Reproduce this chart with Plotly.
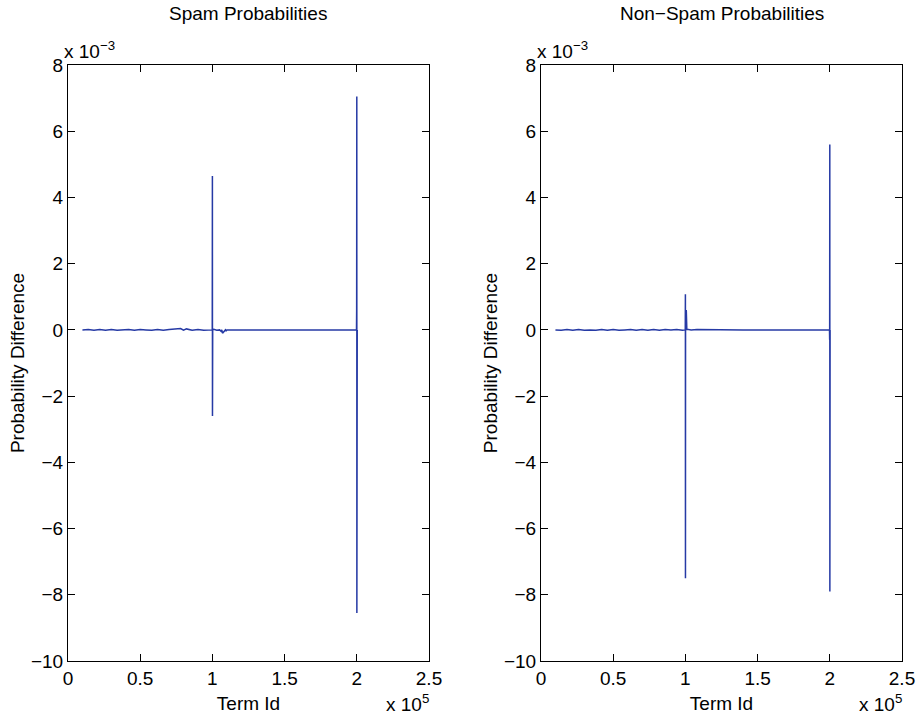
import plotly.graph_objects as go

# ---- data (term id, probability difference) ----
spam_term_id = [10000, 14000, 18000, 22000, 26000, 30000, 34000, 38000, 42000, 46000,
                50000, 54000, 58000, 62000, 66000, 70000, 74000, 78000, 80000, 82000,
                86000, 90000, 94000, 98000, 99900, 100000, 100050, 100100, 100200,
                101000, 103000, 105000, 106000, 106500, 107000, 109000, 109500, 110000,
                120000, 150000, 180000, 199800, 199900, 200000, 200050, 200100, 200150,
                200300]
spam_diff = [0.0, 0.01e-3, -0.01e-3, 0.01e-3, -0.01e-3, 0.01e-3, -0.01e-3, 0.0, 0.01e-3, -0.01e-3,
             0.01e-3, 0.0, -0.01e-3, 0.01e-3, -0.01e-3, 0.01e-3, 0.02e-3, 0.04e-3, -0.01e-3, 0.03e-3,
             -0.01e-3, 0.01e-3, -0.01e-3, 0.01e-3, 0.0, 4.65e-3, -2.6e-3, 0.05e-3, 0.0,
             0.02e-3, -0.01e-3, 0.0, -0.04e-3, 0.0, -0.1e-3, 0.0, -0.04e-3, 0.0,
             0.0, 0.0, 0.0, 0.0, 0.6e-3, 7.05e-3, -8.55e-3, 0.6e-3, 0.0,
             0.0]

nonspam_term_id = [10000, 14000, 18000, 22000, 26000, 30000, 34000, 38000, 42000, 46000,
                   50000, 54000, 58000, 62000, 66000, 70000, 74000, 78000, 82000, 86000,
                   90000, 94000, 98000, 99900, 100000, 100050, 100100, 100600, 101000,
                   101300, 104000, 108000, 140000, 180000, 199800, 199900, 200000, 200050,
                   200100, 200200]
nonspam_diff = [0.0, -0.01e-3, 0.01e-3, -0.01e-3, 0.01e-3, -0.01e-3, 0.0, -0.01e-3, 0.01e-3, -0.01e-3,
                0.01e-3, -0.01e-3, 0.0, 0.01e-3, -0.01e-3, 0.01e-3, -0.01e-3, 0.01e-3, -0.01e-3, 0.01e-3,
                0.0, 0.01e-3, -0.01e-3, 0.0, 1.08e-3, -7.5e-3, 0.0, 0.6e-3, 0.0,
                0.02e-3, 0.0, 0.01e-3, 0.0, 0.0, 0.0, -0.3e-3, 5.6e-3, -7.9e-3,
                -0.3e-3, 0.0]

titles = ["Spam Probabilities", "Non\u2212Spam Probabilities"]
x_tick_vals = [0, 50000, 100000, 150000, 200000, 250000]
x_tick_text = ["0", "0.5", "1", "1.5", "2", "2.5"]
y_tick_vals = [8e-3, 6e-3, 4e-3, 2e-3, 0, -2e-3, -4e-3, -6e-3, -8e-3, -10e-3]
y_tick_text = ["8", "6", "4", "2", "0", "\u22122", "\u22124", "\u22126", "\u22128", "\u221210"]

LINE = "rgb(38,58,165)"
FONT = "Liberation Sans, Arial, sans-serif"
TICK_SIZE = 19
LABEL_SIZE = 19

fig = go.Figure()
fig.add_trace(go.Scatter(x=spam_term_id, y=spam_diff, mode="lines",
                         line=dict(color=LINE, width=1.5), xaxis="x", yaxis="y",
                         showlegend=False))
fig.add_trace(go.Scatter(x=nonspam_term_id, y=nonspam_diff, mode="lines",
                         line=dict(color=LINE, width=1.5), xaxis="x2", yaxis="y2",
                         showlegend=False))

W, H = 919, 724
dom1 = [68 / W, 429 / W]
dom2 = [541 / W, 902 / W]
ydom = [1 - 661 / H, 1 - 65 / H]

axis_common = dict(showgrid=False, zeroline=False, showline=True, linecolor="black",
                   linewidth=1, mirror="ticks", ticks="inside", ticklen=7,
                   tickcolor="black", automargin=False,
                   tickfont=dict(size=TICK_SIZE, color="black", family=FONT))

fig.update_layout(
    width=W, height=H, paper_bgcolor="white", plot_bgcolor="white",
    margin=dict(l=0, r=0, t=0, b=0),
    font=dict(family=FONT, color="black"),
    xaxis=dict(domain=dom1, range=[0, 250000], tickvals=x_tick_vals, ticktext=x_tick_text,
               anchor="y", title=dict(text="Term Id", font=dict(size=LABEL_SIZE), standoff=8),
               **axis_common),
    yaxis=dict(domain=ydom, range=[-10e-3, 8e-3], tickvals=y_tick_vals, ticktext=y_tick_text,
               anchor="x", title=dict(text="Probability Difference", font=dict(size=LABEL_SIZE), standoff=1),
               **axis_common),
    xaxis2=dict(domain=dom2, range=[0, 250000], tickvals=x_tick_vals, ticktext=x_tick_text,
                anchor="y2", title=dict(text="Term Id", font=dict(size=LABEL_SIZE), standoff=8),
                **axis_common),
    yaxis2=dict(domain=ydom, range=[-10e-3, 8e-3], tickvals=y_tick_vals, ticktext=y_tick_text,
                anchor="x2", title=dict(text="Probability Difference", font=dict(size=LABEL_SIZE), standoff=1),
                **axis_common),
)

ann = []
for dom, t in zip([dom1, dom2], titles):
    cx = (dom[0] + dom[1]) / 2
    ann.append(dict(text=t, x=cx, y=1 - 13 / H, xref="paper", yref="paper",
                    showarrow=False, font=dict(size=LABEL_SIZE), xanchor="center", yanchor="middle"))
    ann.append(dict(text="x 10<sup>\u22123</sup>", x=dom[0] - 6 / W, y=ydom[1] + 1 / H,
                    xref="paper", yref="paper", showarrow=False, font=dict(size=TICK_SIZE),
                    xanchor="left", yanchor="bottom"))
    ann.append(dict(text="x 10<sup>5</sup>", x=dom[1] + 2 / W, y=1 - 689 / H,
                    xref="paper", yref="paper", showarrow=False, font=dict(size=TICK_SIZE),
                    xanchor="right", yanchor="top"))
fig.update_layout(annotations=ann)

fig.write_html("out.html", config={"displayModeBar": False},
               post_script="document.body.style.margin='0';")
